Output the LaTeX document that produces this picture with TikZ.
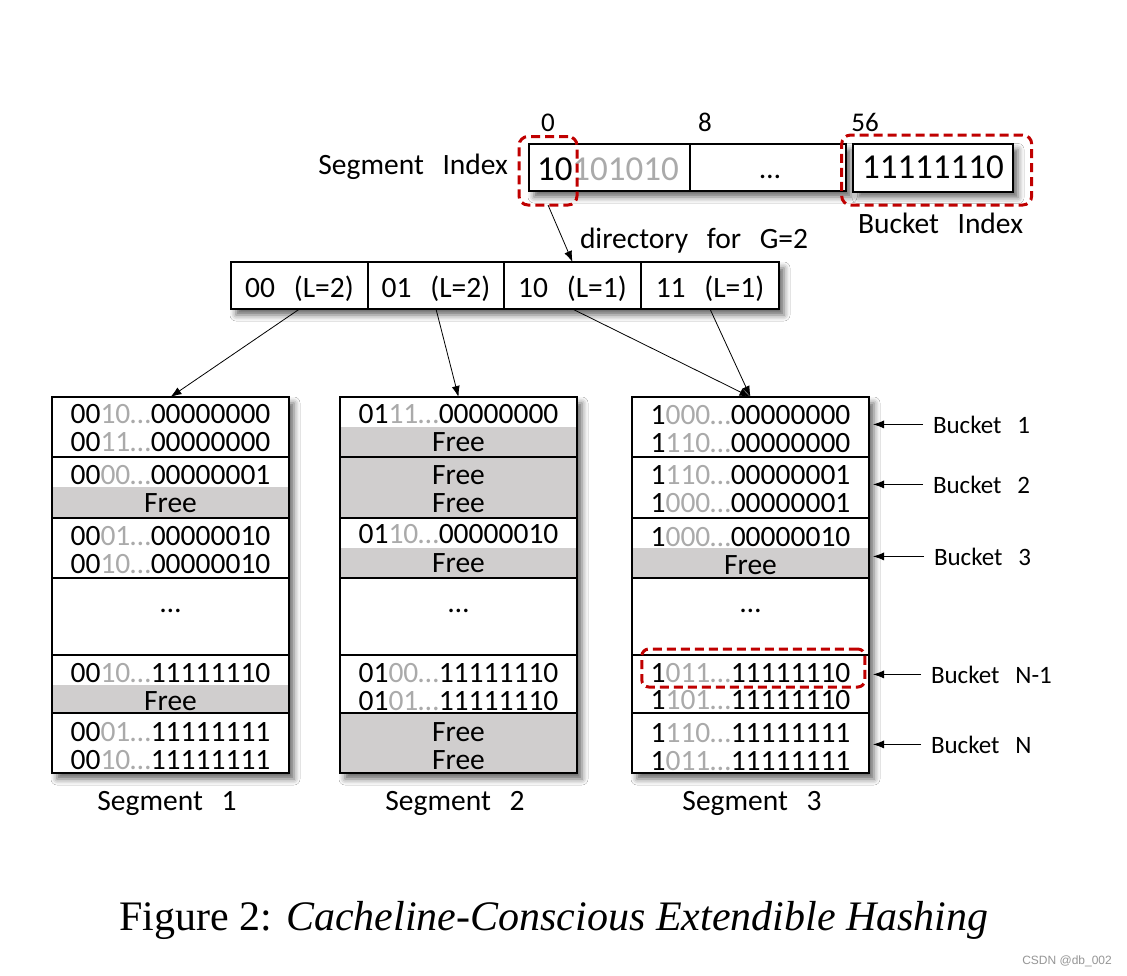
\documentclass[tikz,border=0pt]{standalone}
\usepackage{fontspec}
\setmainfont{Carlito}[WordSpace=2.8]
\newfontfamily\capfont{Liberation Serif}
\newfontfamily\wmfont{Liberation Sans}
\usetikzlibrary{arrows.meta,shadows.blur}
\definecolor{lg}{RGB}{170,170,170}
\definecolor{fr}{RGB}{208,206,206}
\definecolor{rd}{RGB}{192,0,0}
\definecolor{wm}{RGB}{150,150,150}
\newcommand\fsA{\fontsize{29.5}{34}\selectfont}
\newcommand\fsB{\fontsize{35}{40}\selectfont}
\newcommand\fsC{\fontsize{25}{30}\selectfont}
\newcommand\fsD{\fontsize{27}{32}\selectfont}
\newcommand\kv[3]{#1\textcolor{lg}{#2…}#3}
\tikzset{
  txt/.style={inner sep=0pt, outer sep=0pt, anchor=base, font=\fsA},
  cellbox/.style={draw, line width=2pt, fill=white, inner sep=0pt, outer sep=0pt},
  shad/.style={blur shadow={shadow xshift=5pt, shadow yshift=-6pt, shadow blur radius=6pt, shadow opacity=60}},
  redbox/.style={draw=rd, line width=3pt, dash pattern=on 9pt off 5pt, rounded corners=9pt, inner sep=0pt, outer sep=0pt},
  arr/.style={draw, line width=0.8pt, -{Latex[length=11pt,width=8pt]}},
  sep/.style={line width=2pt},
  band/.style={fill=fr},
  blabel/.style={inner sep=0pt, outer sep=0pt, anchor=base west, font=\fsC},
}
\begin{document}
\begin{tikzpicture}[x=1pt,y=-1pt]
\useasboundingbox (0,0) rectangle (1127,975);
\fill[white] (0,0) rectangle (1127,975);

% ---------- top key ----------
\node[txt, anchor=base east] (segidx) at (508,174) {Segment Index};
\node[cellbox, shad, minimum width=317pt, minimum height=47.5pt] (bar) at (687.5,167.25) {};
\node[cellbox, minimum width=161pt, minimum height=47.5pt] (c1) at (609.5,167.25) {};
\node[cellbox, minimum width=156pt, minimum height=47.5pt] (c2) at (768,167.25) {};
\node[cellbox, shad, minimum width=160pt, minimum height=48pt] (c3) at (933,167.5) {};
\node[txt, anchor=base west, font=\fsB] (c1t) at (537,180) {10\textcolor{lg}{101010}};
\node[txt] (c2t) at (770,178) {…};
\node[txt, anchor=base west, font=\fsB] (c3t) at (862,178) {11111110};
\node[txt, font=\fsD] (p0) at (548,131) {0};
\node[txt, font=\fsD] (p8) at (705,131) {8};
\node[txt, font=\fsD] (p56) at (865,131) {56};
\node[redbox, minimum width=58pt, minimum height=68.5pt] (rdL) at (548,170.75) {};
\node[redbox, minimum width=190pt, minimum height=70pt] (rdR) at (936.7,170) {};
\node[txt, anchor=base west] (bidx) at (858,233) {Bucket Index};
\node[txt, anchor=base west] (dirlbl) at (580,248) {directory for G=2};

% ---------- directory ----------
\node[cellbox, shad, minimum width=548pt, minimum height=47pt] (dir) at (505,285.5) {};
\node[cellbox, minimum width=137pt, minimum height=47pt] (d00) at (299.5,285.5) {};
\node[cellbox, minimum width=136pt, minimum height=47pt] (d01) at (436,285.5) {};
\node[cellbox, minimum width=137pt, minimum height=47pt] (d10) at (572.5,285.5) {};
\node[cellbox, minimum width=138pt, minimum height=47pt] (d11) at (710,285.5) {};
\node[txt] (d00t) at (299.5,297) {00 (L=2)};
\node[txt] (d01t) at (436,297) {01 (L=2)};
\node[txt] (d10t) at (572.5,297) {10 (L=1)};
\node[txt] (d11t) at (710,297) {11 (L=1)};

\draw[arr] (rdL.south) -- (d10.north);

% ---------- segments (outer boxes) ----------
\node[cellbox, shad, minimum width=237pt, minimum height=376pt] (seg1) at (170.5,585) {};
\node[cellbox, shad, minimum width=237pt, minimum height=376pt] (seg2) at (458.5,585) {};
\node[cellbox, shad, minimum width=237pt, minimum height=376pt] (seg3) at (750.5,585) {};

% free bands
\fill[band] (52,487) rectangle (289,517.5);
\fill[band] (52,685) rectangle (289,713);
\fill[band] (340,427) rectangle (577,457);
\fill[band] (340,457) rectangle (577,517.5);
\fill[band] (340,547.5) rectangle (577,578);
\fill[band] (340,713) rectangle (577,773);
\fill[band] (632,547.5) rectangle (869,578);

% bucket separators and borders
\foreach \xa/\xb in {52/289, 340/577, 632/869}{
  \foreach \yy in {457,517.5,578,655,713}{
    \draw[sep] (\xa,\yy) -- (\xb,\yy);
  }
  \draw[line width=2pt] (\xa,397) rectangle (\xb,773);
}

% segment 1 texts
\node[txt] (s1a) at (170.5,423) {\kv{00}{10}{00000000}};
\node[txt] (s1b) at (170.5,451) {\kv{00}{11}{00000000}};
\node[txt] (s1c) at (170.5,484) {\kv{00}{00}{00000001}};
\node[txt] (s1d) at (170.5,512) {Free};
\node[txt] (s1e) at (170.5,545) {\kv{00}{01}{00000010}};
\node[txt] (s1f) at (170.5,573) {\kv{00}{10}{00000010}};
\node[txt] (s1g) at (170.5,612) {…};
\node[txt] (s1h) at (170.5,682) {\kv{00}{10}{11111110}};
\node[txt] (s1i) at (170.5,710) {Free};
\node[txt] (s1j) at (170.5,741) {\kv{00}{01}{11111111}};
\node[txt] (s1k) at (170.5,769) {\kv{00}{10}{11111111}};

% segment 2 texts
\node[txt] (s2a) at (458.5,423) {\kv{01}{11}{00000000}};
\node[txt] (s2b) at (458.5,451) {Free};
\node[txt] (s2c) at (458.5,484) {Free};
\node[txt] (s2d) at (458.5,512) {Free};
\node[txt] (s2e) at (458.5,543) {\kv{01}{10}{00000010}};
\node[txt] (s2f) at (458.5,572) {Free};
\node[txt] (s2g) at (458.5,612) {…};
\node[txt] (s2h) at (458.5,682) {\kv{01}{00}{11111110}};
\node[txt] (s2i) at (458.5,710) {\kv{01}{01}{11111110}};
\node[txt] (s2j) at (458.5,741) {Free};
\node[txt] (s2k) at (458.5,769) {Free};

% segment 3 texts
\node[txt] (s3a) at (750.5,424) {\kv{1}{000}{00000000}};
\node[txt] (s3b) at (750.5,452) {\kv{1}{110}{00000000}};
\node[txt] (s3c) at (750.5,484) {\kv{1}{110}{00000001}};
\node[txt] (s3d) at (750.5,512) {\kv{1}{000}{00000001}};
\node[txt] (s3e) at (750.5,546) {\kv{1}{000}{00000010}};
\node[txt] (s3f) at (750.5,574) {Free};
\node[txt] (s3g) at (750.5,612) {…};
\node[txt] (s3h) at (750.5,682) {\kv{1}{011}{11111110}};
\node[txt] (s3i) at (750.5,709) {\kv{1}{101}{11111110}};
\node[txt] (s3j) at (750.5,742) {\kv{1}{110}{11111111}};
\node[txt] (s3k) at (750.5,770) {\kv{1}{011}{11111111}};
\node[redbox, rounded corners=7pt, minimum width=223pt, minimum height=38pt] (rdN) at (753.3,668) {};

% segment labels
\node[txt] (sl1) at (167,810) {Segment 1};
\node[txt] (sl2) at (455,810) {Segment 2};
\node[txt] (sl3) at (752,810) {Segment 3};

% directory -> segment arrows
\draw[arr] (d00.south) -- (seg1.north);
\draw[arr] (d01.south) -- (seg2.north);
\draw[arr] (d10.south) -- (seg3.north);
\draw[arr] (d11.south) -- (seg3.north);

% bucket labels
\coordinate (s3r) at (873,0);
\node[blabel] (bl1) at (933,433) {Bucket 1};
\node[blabel] (bl2) at (933,493) {Bucket 2};
\node[blabel] (bl3) at (934,565) {Bucket 3};
\node[blabel] (bl4) at (931,683) {Bucket N-1};
\node[blabel] (bl5) at (931,753) {Bucket N};
\foreach \b in {bl1,bl2,bl3,bl4,bl5}{
  \draw[arr] ([xshift=-10pt]\b.west) -- (s3r |- \b.west);
}

% caption and mark
\node[inner sep=0pt, anchor=base, font={\capfont\fontsize{42}{48}\selectfont}] (cap) at (554,930) {Figure 2: \textit{Cacheline-Conscious Extendible Hashing}};
\node[inner sep=0pt, anchor=base east, font={\wmfont\fontsize{12}{14}\selectfont}, text=wm] (mark) at (1112,964) {CSDN @db\_002};
\end{tikzpicture}
\end{document}
